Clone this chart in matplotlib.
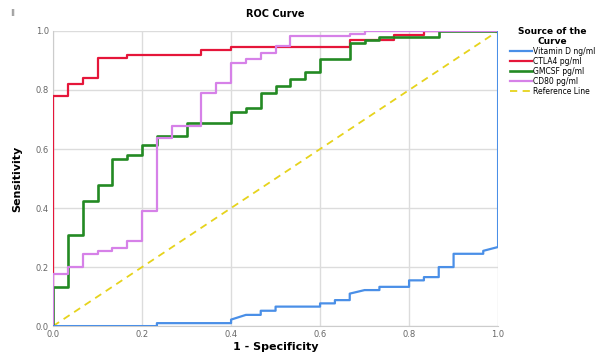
import numpy as np
import matplotlib.pyplot as plt

# ROC curve vertices (1 - specificity, sensitivity)
vitd_fpr = [0, 7/30, 7/30, 12/30, 12/30, 13/30, 14/30, 14/30, 15/30, 15/30, 18/30, 18/30,
            19/30, 19/30, 20/30, 20/30, 21/30, 22/30, 22/30, 24/30, 24/30, 25/30, 25/30,
            26/30, 26/30, 27/30, 27/30, 29/30, 29/30, 1, 1]
vitd_tpr = [0, 0, 0.01, 0.01, 0.022, 0.038, 0.038, 0.052, 0.052, 0.066, 0.066, 0.077,
            0.077, 0.088, 0.088, 0.11, 0.122, 0.122, 0.133, 0.133, 0.155, 0.155, 0.166,
            0.166, 0.2, 0.2, 0.245, 0.245, 0.255, 0.268, 1.0]

ctla4_fpr = [0, 0, 1/30, 1/30, 2/30, 2/30, 3/30, 3/30, 5/30, 5/30, 10/30, 10/30, 12/30,
             12/30, 20/30, 20/30, 23/30, 23/30, 25/30, 25/30, 1]
ctla4_tpr = [0, 0.78, 0.78, 0.82, 0.82, 0.84, 0.84, 0.91, 0.91, 0.92, 0.92, 0.935, 0.935,
             0.947, 0.947, 0.97, 0.97, 0.985, 0.985, 1.0, 1.0]

gmcsf_fpr = [0, 0, 1/30, 1/30, 2/30, 2/30, 3/30, 3/30, 4/30, 4/30, 5/30, 5/30, 6/30, 6/30,
             7/30, 7/30, 9/30, 9/30, 12/30, 12/30, 13/30, 13/30, 14/30, 14/30, 15/30, 15/30,
             16/30, 16/30, 17/30, 17/30, 18/30, 18/30, 20/30, 20/30, 21/30, 21/30, 22/30,
             22/30, 26/30, 26/30, 1]
gmcsf_tpr = [0, 0.133, 0.133, 0.31, 0.31, 0.424, 0.424, 0.478, 0.478, 0.567, 0.567, 0.58,
             0.58, 0.613, 0.613, 0.645, 0.645, 0.687, 0.687, 0.724, 0.724, 0.738, 0.738,
             0.791, 0.791, 0.814, 0.814, 0.836, 0.836, 0.862, 0.862, 0.904, 0.904, 0.958,
             0.958, 0.969, 0.969, 0.98, 0.98, 1.0, 1.0]

cd80_fpr = [0, 0, 1/30, 1/30, 2/30, 2/30, 3/30, 3/30, 4/30, 4/30, 5/30, 5/30, 6/30, 6/30,
            7/30, 7/30, 8/30, 8/30, 10/30, 10/30, 11/30, 11/30, 12/30, 12/30, 13/30, 13/30,
            14/30, 14/30, 15/30, 15/30, 16/30, 16/30, 20/30, 20/30, 21/30, 21/30, 1]
cd80_tpr = [0, 0.178, 0.178, 0.2, 0.2, 0.243, 0.243, 0.255, 0.255, 0.265, 0.265, 0.289,
            0.289, 0.39, 0.39, 0.638, 0.638, 0.678, 0.678, 0.791, 0.791, 0.825, 0.825,
            0.892, 0.892, 0.904, 0.904, 0.926, 0.926, 0.949, 0.949, 0.983, 0.983, 0.99,
            0.99, 1.0, 1.0]

ticks = [0.0, 0.2, 0.4, 0.6, 0.8, 1.0]
tick_labels = ["0.0", "0.2", "0.4", "0.6", "0.8", "1.0"]

fig = plt.figure(figsize=(6.03, 3.56), dpi=100)
ax = fig.add_axes([0.088, 0.084, 0.738, 0.829])

ax.plot(vitd_fpr, vitd_tpr, color="#4a8fe7", lw=1.6, label="Vitamin D ng/ml", zorder=6)
ax.plot(ctla4_fpr, ctla4_tpr, color="#e5163a", lw=1.6, label="CTLA4 pg/ml", zorder=3)
ax.plot(gmcsf_fpr, gmcsf_tpr, color="#238a23", lw=1.9, label="GMCSF pg/ml", zorder=4)
ax.plot(cd80_fpr, cd80_tpr, color="#d681e8", lw=1.6, label="CD80 pg/ml", zorder=5)
ax.plot([0, 1], [0, 1], color="#e6d31c", lw=1.3, ls=(0, (4, 3)), label="Reference Line", zorder=2)

ax.set_xlim(0, 1)
ax.set_ylim(0, 1)
ax.set_xticks(ticks)
ax.set_xticklabels(tick_labels)
ax.set_yticks(ticks)
ax.set_yticklabels(tick_labels)
ax.tick_params(length=0, labelsize=6, colors="#666666", pad=3)
ax.grid(True, color="#dcdcdc", lw=1)
ax.set_axisbelow(True)
for s in ["top", "right"]:
    ax.spines[s].set_visible(False)
for s in ["left", "bottom"]:
    ax.spines[s].set_color("#cccccc")

ax.set_title("ROC Curve", fontsize=7, fontweight="bold", pad=10)
ax.set_xlabel("1 - Specificity", fontsize=8, fontweight="bold", labelpad=2)
ax.set_ylabel("Sensitivity", fontsize=8, fontweight="bold", labelpad=10)

fig.text(0.017, 0.955, "II", fontsize=6, color="#777777")

leg = fig.legend(loc="upper left", bbox_to_anchor=(0.845, 0.925), frameon=False,
                 fontsize=5.5, title="Source of the\nCurve", handlelength=3,
                 handletextpad=0.1, labelspacing=0.12, borderaxespad=0, borderpad=0)
leg.get_title().set_fontsize(6.5)
leg.get_title().set_fontweight("bold")
leg.get_title().set_multialignment("center")

fig.savefig("out.png", dpi=100)
